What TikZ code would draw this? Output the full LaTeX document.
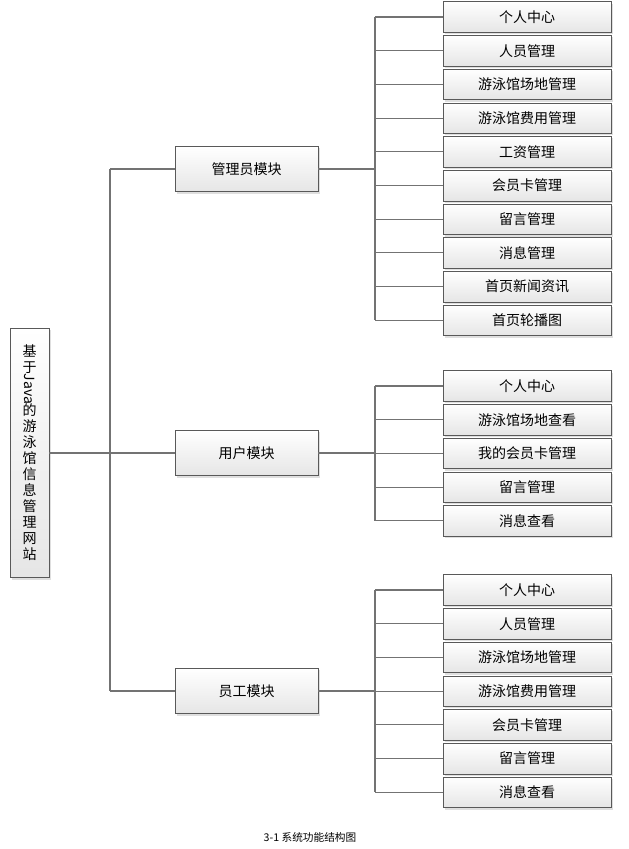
\documentclass[tikz,border=0pt]{standalone}
\usepackage{fontspec}
\newfontfamily\cjk{Noto Sans CJK SC}
\usetikzlibrary{shadows}
\tikzset{
  box/.style={draw=black!65, top color=white, bottom color=black!10, drop shadow={opacity=.25, shadow xshift=1.5pt, shadow yshift=-1.5pt}, font=\cjk\fontsize{10.5}{12}\selectfont, inner sep=0pt},
  leafbox/.style={box, minimum width=126pt, minimum height=23pt},
  modbox/.style={box, minimum width=107pt, minimum height=34pt},
  link/.style={draw=black!55, line width=.8pt}
}
\begin{document}
\begin{tikzpicture}[x=.75pt, y=-.75pt]
	\useasboundingbox (0,0) rectangle (628,849);
	% root
	\node[box, minimum width=29pt, minimum height=187pt, align=center] (root) at (29.5,453)
	  {\parbox{11pt}{\centering 基\\于\\[-1pt]\makebox[11pt]{\rotatebox[origin=c]{-90}{Java}}\\[-1pt]的\\游\\泳\\馆\\信\\息\\管\\理\\网\\站}};
	\coordinate (spine top) at (110,169);
	\coordinate (spine bot) at (110,691);
	\draw[link] (spine top) -- (spine bot);
	\draw[link] (root.east) -- (110,453);
	% modules
	\node[modbox] (admin) at (246.5,169) {管理员模块};
	\node[modbox] (user)  at (246.5,453) {用户模块};
	\node[modbox] (staff) at (246.5,691) {员工模块};
	\foreach \m in {admin,user,staff}
	  \draw[link] (\m.west) -- (\m.west -| spine top);
	% leaves
	\foreach \m/\ya/\n/\list in {
	  admin/17/10/{个人中心,人员管理,游泳馆场地管理,游泳馆费用管理,工资管理,会员卡管理,留言管理,消息管理,首页新闻资讯,首页轮播图},
	  user/386/5/{个人中心,游泳馆场地查看,我的会员卡管理,留言管理,消息查看},
	  staff/590/7/{个人中心,人员管理,游泳馆场地管理,游泳馆费用管理,会员卡管理,留言管理,消息查看}}{
	  \draw[link] (\m.east) -- (375,0 |- \m.east);
	  \foreach \t [count=\i] in \list {
	    \node[leafbox] (\m-\i) at (527,{\ya+(\i-1)*33.7}) {\t};
	    \draw[link] (\m-\i.west) -- (375,0 |- \m-\i.west);
	  }
	  \draw[link] (375,0 |- \m-1.west) -- (375,0 |- \m-\n.west);
	}
	\node[font=\cjk\fontsize{8}{9}\selectfont] (caption) at (310,837) {3-1 系统功能结构图};
\end{tikzpicture}
\end{document}
